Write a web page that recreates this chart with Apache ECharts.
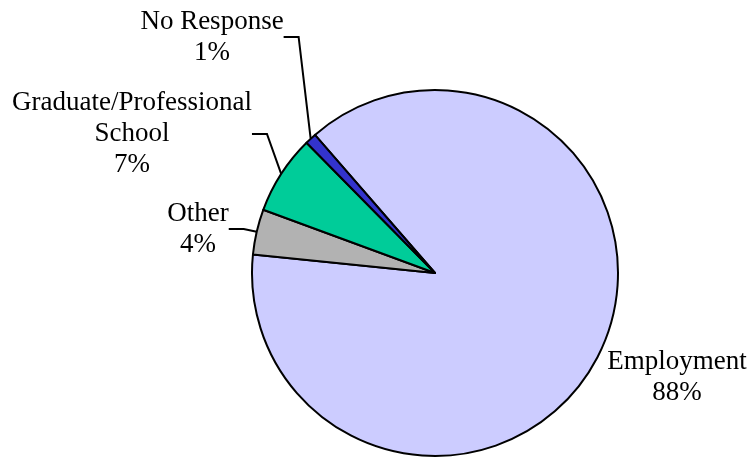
<!DOCTYPE html>
<html><head><meta charset="utf-8">
<script src="https://cdn.jsdelivr.net/npm/echarts@6/dist/echarts.min.js"></script>
<style>html,body{margin:0;padding:0;background:#fff}#c{width:748px;height:459px}</style>
</head><body><div id="c"></div>
<script>
const categories = ['Employment', 'Other', 'Graduate/Professional\nSchool', 'No Response'];
const values = [88, 4, 7, 1];
const colors = ['#CCCCFF', '#B2B2B2', '#00CC99', '#3333CC'];
const labelPos = [[677, 377], [198, 229], [132, 134], [212, 37]];

const chart = echarts.init(document.getElementById('c'), null, {renderer: 'canvas'});
chart.setOption({
  animation: false,
  series: [{
    type: 'pie',
    center: [435, 273],
    radius: 183,
    startAngle: 131,
    clockwise: true,
    data: categories.map((n, i) => ({
      name: n, value: values[i], itemStyle: {color: colors[i]},
      labelLine: {show: i !== 0}
    })),
    itemStyle: {borderColor: '#000', borderWidth: 2},
    label: {
      formatter: '{b}\n{d}%',
      fontFamily: 'Liberation Serif',
      fontSize: 27,
      lineHeight: 31,
      color: '#000',
      align: 'center',
      overflow: 'none'
    },
    labelLine: {show: true, lineStyle: {color: '#000', width: 2}, length: 20, length2: 15},
    labelLayout: function (p) {
      const pos = labelPos[p.dataIndex];
      return {x: pos[0], y: pos[1], align: 'center', verticalAlign: 'middle'};
    }
  }]
});
</script></body></html>
